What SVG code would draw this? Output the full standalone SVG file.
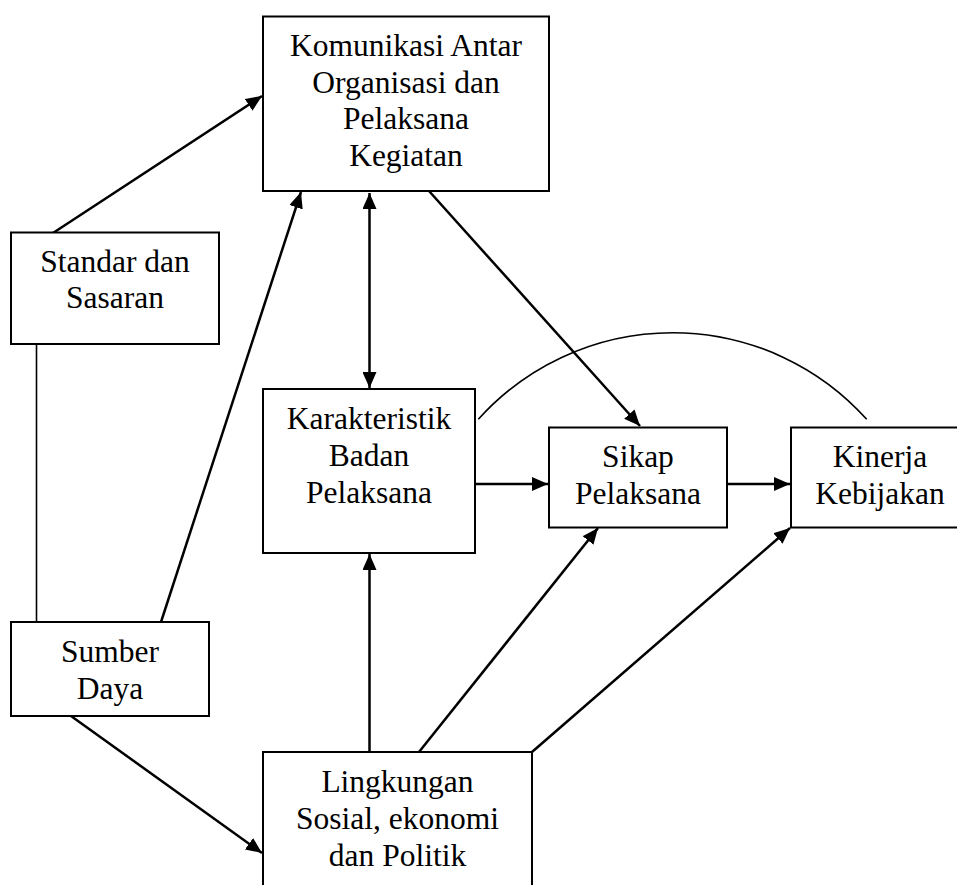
<svg xmlns="http://www.w3.org/2000/svg" width="957" height="885" viewBox="0 0 957 885">
<style>
  .box { fill: #fff; stroke: #000; stroke-width: 2; }
  .lbl { font-family: "Liberation Serif", "Times New Roman", serif; font-size: 31.5px; fill: #000; text-anchor: middle; }
  .arr { stroke: #000; stroke-width: 2.5; fill: none; marker-end: url(#ah); }
  .thin { stroke: #000; stroke-width: 1.6; fill: none; }
</style>
<defs>
  <marker id="ah" markerUnits="userSpaceOnUse" markerWidth="16" markerHeight="14" refX="16" refY="7" orient="auto-start-reverse" viewBox="0 0 16 14">
    <path d="M0,0 L16,7 L0,14 z" fill="#000"/>
  </marker>
</defs>
<rect x="0" y="0" width="957" height="885" fill="#fff"/>

<g id="connectors">
  <line class="arr" x1="53" y1="233" x2="262" y2="96"/>
  <line class="arr" x1="161" y1="622" x2="301" y2="192"/>
  <line class="arr" x1="369.5" y1="193" x2="369.5" y2="388" style="marker-start:url(#ah)"/>
  <line class="arr" x1="429" y1="191" x2="640" y2="426"/>
  <line class="thin" x1="36.5" y1="344" x2="36.5" y2="622"/>
  <line class="arr" x1="475" y1="484" x2="548" y2="484"/>
  <line class="arr" x1="727" y1="484" x2="790" y2="484"/>
  <path class="thin" d="M478.3,419.3 A261,261 0 0 1 866.7,419.3"/>
  <line class="arr" x1="369.5" y1="752" x2="369.5" y2="554"/>
  <line class="arr" x1="419" y1="752" x2="598" y2="528"/>
  <line class="arr" x1="532" y1="752" x2="790" y2="528"/>
  <line class="arr" x1="71" y1="716" x2="262" y2="853"/>
</g>

<g id="komunikasi">
  <rect class="box" x="263" y="16.5" width="286" height="174.5"/>
  <text class="lbl" x="406" y="56">Komunikasi Antar</text>
  <text class="lbl" x="406" y="92.5">Organisasi dan</text>
  <text class="lbl" x="406" y="129">Pelaksana</text>
  <text class="lbl" x="406" y="165.5">Kegiatan</text>
</g>

<g id="standar">
  <rect class="box" x="11" y="232.5" width="208" height="111.5"/>
  <text class="lbl" x="115" y="272">Standar dan</text>
  <text class="lbl" x="115" y="308">Sasaran</text>
</g>

<g id="karakteristik">
  <rect class="box" x="263" y="389" width="212" height="164"/>
  <text class="lbl" x="369" y="429">Karakteristik</text>
  <text class="lbl" x="369" y="466">Badan</text>
  <text class="lbl" x="369" y="503">Pelaksana</text>
</g>

<g id="sikap">
  <rect class="box" x="549" y="427.5" width="178" height="100"/>
  <text class="lbl" x="638" y="467">Sikap</text>
  <text class="lbl" x="638" y="504">Pelaksana</text>
</g>

<g id="kinerja">
  <rect class="box" x="791" y="427.5" width="180" height="100"/>
  <text class="lbl" x="880" y="467">Kinerja</text>
  <text class="lbl" x="880" y="504">Kebijakan</text>
</g>

<g id="sumber">
  <rect class="box" x="11" y="622" width="198" height="94"/>
  <text class="lbl" x="110" y="662">Sumber</text>
  <text class="lbl" x="110" y="699">Daya</text>
</g>

<g id="lingkungan">
  <rect class="box" x="263" y="752" width="269" height="150"/>
  <text class="lbl" x="397.5" y="792">Lingkungan</text>
  <text class="lbl" x="397.5" y="828.5">Sosial, ekonomi</text>
  <text class="lbl" x="397.5" y="865.5">dan Politik</text>
</g>
</svg>
